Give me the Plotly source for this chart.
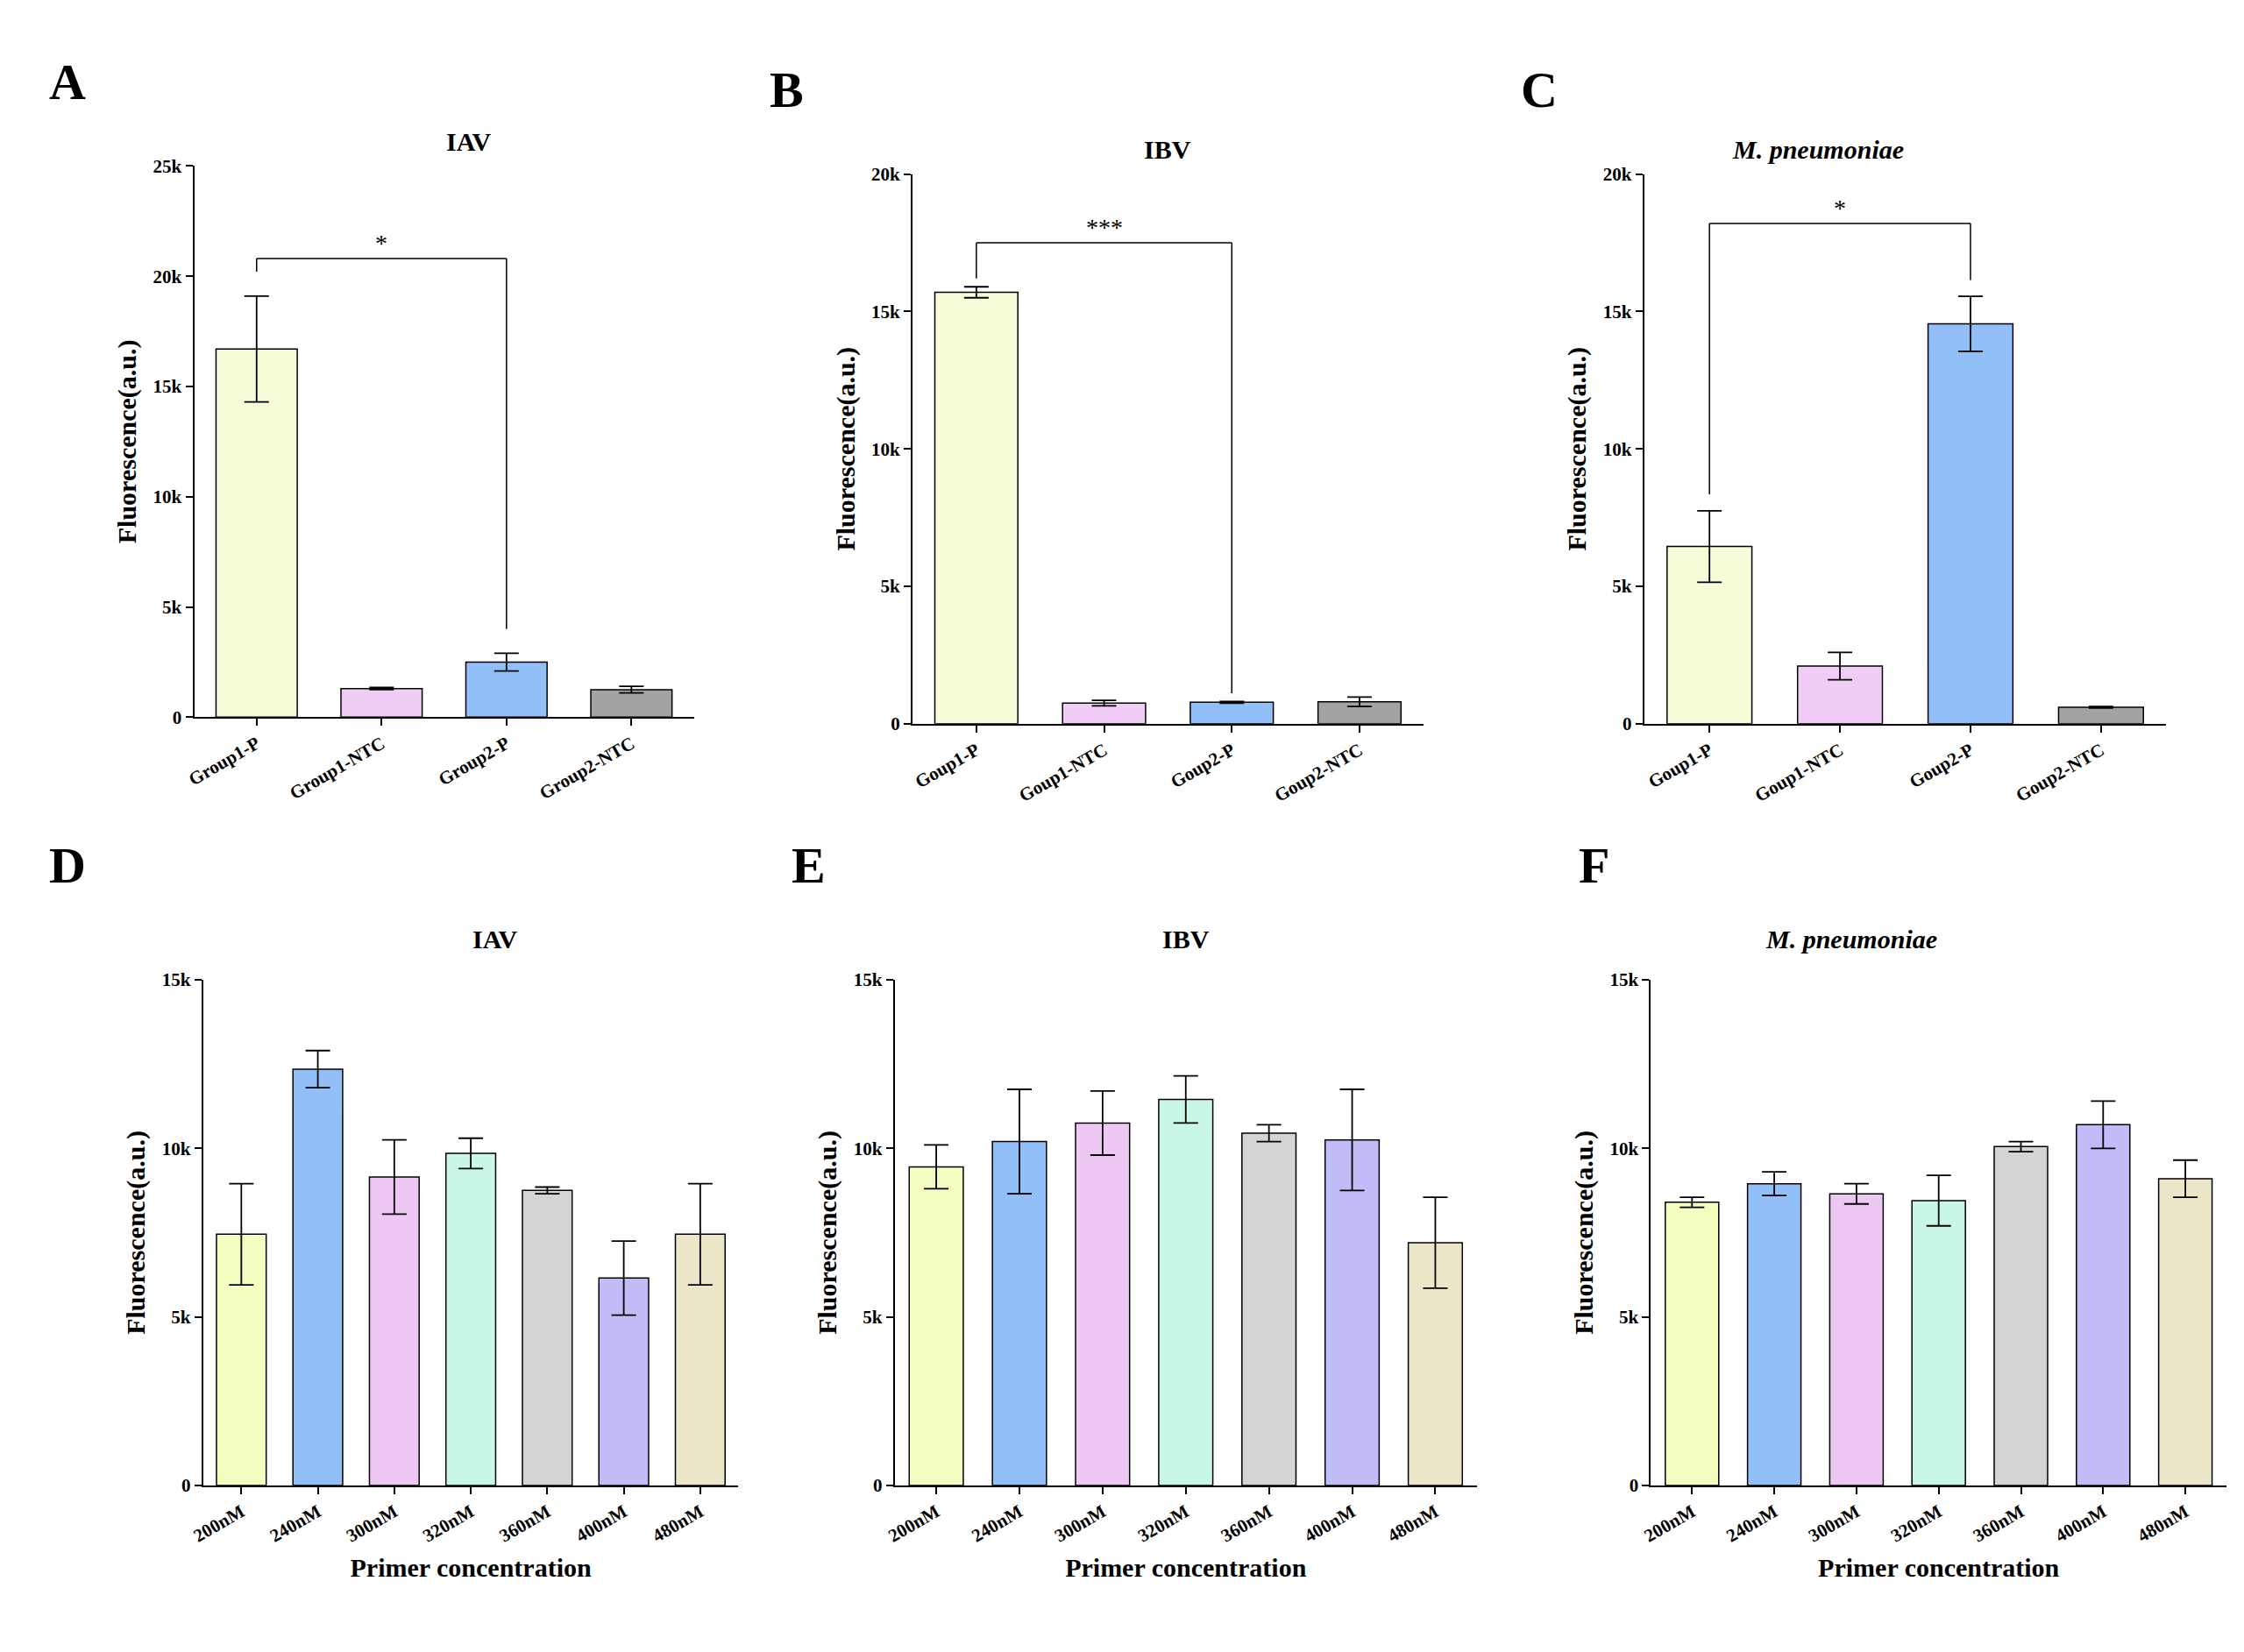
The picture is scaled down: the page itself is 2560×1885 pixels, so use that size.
import plotly.graph_objects as go
from plotly.subplots import make_subplots

# top row: group comparisons
cats_a = ["Group1-P", "Group1-NTC", "Group2-P", "Group2-NTC"]
cats_bc = ["Goup1-P", "Goup1-NTC", "Goup2-P", "Goup2-NTC"]
iav_grp = [16700, 1300, 2500, 1250]
iav_grp_err = [2400, 50, 400, 150]
ibv_grp = [15700, 750, 780, 800]
ibv_grp_err = [200, 100, 30, 170]
mp_grp = [6450, 2100, 14550, 600]
mp_grp_err = [1300, 500, 1000, 30]

# bottom row: primer concentration
conc = ["200nM", "240nM", "300nM", "320nM", "360nM", "400nM", "480nM"]
iav_conc = [7450, 12350, 9150, 9850, 8750, 6150, 7450]
iav_conc_err = [1500, 550, 1100, 450, 100, 1100, 1500]
ibv_conc = [9450, 10200, 10750, 11450, 10450, 10250, 7200]
ibv_conc_err = [650, 1550, 950, 700, 250, 1500, 1350]
mp_conc = [8400, 8950, 8650, 8450, 10050, 10700, 9100]
mp_conc_err = [150, 350, 300, 750, 150, 700, 550]

top_colors = ["#f8fbd8", "#efcdf5", "#92bff7", "#a3a3a3"]
bot_colors = ["#f2fdc0", "#92bff7", "#ecc8f3", "#c9f7e6", "#d4d4d4", "#bfbcf8", "#ece6c9"]

FONT = "Liberation Serif"
fig = make_subplots(rows=2, cols=3)

panels = [
    (1, 1, cats_a, iav_grp, iav_grp_err, top_colors, 25000),
    (1, 2, cats_bc, ibv_grp, ibv_grp_err, top_colors, 20000),
    (1, 3, cats_bc, mp_grp, mp_grp_err, top_colors, 20000),
    (2, 1, conc, iav_conc, iav_conc_err, bot_colors, 15000),
    (2, 2, conc, ibv_conc, ibv_conc_err, bot_colors, 15000),
    (2, 3, conc, mp_conc, mp_conc_err, bot_colors, 15000),
]
for r, c, cats, vals, errs, cols, ymax in panels:
    fig.add_trace(go.Bar(
        x=cats, y=vals, marker=dict(color=cols, line=dict(color="black", width=1.5)),
        width=0.65,
        error_y=dict(type="data", array=errs, color="black", thickness=1.8, width=14),
        showlegend=False), row=r, col=c)
    dtick = 5000
    fig.update_yaxes(range=[0, ymax], dtick=dtick, row=r, col=c)

domains = [
    ((0.078, 0.302), (0.571, 0.909)),
    ((0.400, 0.629), (0.567, 0.904)),
    ((0.728, 0.962), (0.567, 0.904)),
    ((0.082, 0.322), (0.100, 0.410)),
    ((0.392, 0.653), (0.100, 0.410)),
    ((0.731, 0.989), (0.100, 0.410)),
]
for i, (dx, dy) in enumerate(domains, start=1):
    sfx = "" if i == 1 else str(i)
    fig.layout["xaxis" + sfx].update(domain=dx)
    fig.layout["yaxis" + sfx].update(domain=dy)

axis_style = dict(showline=True, linecolor="black", linewidth=2, ticks="outside",
                  tickwidth=2, ticklen=8, tickcolor="black", showgrid=False, zeroline=False,
                  tickfont=dict(family=FONT, size=21, color="black", weight="bold"))
fig.update_xaxes(**axis_style, tickangle=-30)
fig.update_yaxes(**axis_style)
fig.update_yaxes(title=dict(text="<b>Fluorescence(a.u.)</b>", font=dict(family=FONT, size=30, color="black"), standoff=10))
for c in (1, 2, 3):
    fig.update_xaxes(title=dict(text="<b>Primer concentration</b>", font=dict(family=FONT, size=30, color="black"), standoff=14), row=2, col=c)

# significance brackets
brackets = [("x", "y", iav_grp, iav_grp_err, 0, 2, 20800, 1100, "*"),
            ("x2", "y2", ibv_grp, ibv_grp_err, 0, 2, 17500, 300, "***"),
            ("x3", "y3", mp_grp, mp_grp_err, 0, 2, 18200, 600, "*")]
for xr, yr, vals, errs, i0, i1, lvl, gap, txt in brackets:
    y0 = vals[i0] + errs[i0] + gap
    y1 = vals[i1] + errs[i1] + gap
    for xa, ya, xb, yb in [(i0, y0, i0, lvl), (i0, lvl, i1, lvl), (i1, lvl, i1, y1)]:
        fig.add_shape(type="line", xref=xr, yref=yr, x0=xa, y0=ya, x1=xb, y1=yb,
                      line=dict(color="black", width=1.5))
    fig.add_annotation(xref=xr, yref=yr, x=(i0 + i1) / 2, y=lvl, text=txt, showarrow=False,
                       yanchor="bottom", font=dict(family=FONT, size=28, color="black"))

titles = ["<b>IAV</b>", "<b>IBV</b>", "<b><i>M. pneumoniae</i></b>"] * 2
letters = ["A", "B", "C", "D", "E", "F"]
letter_x = [0.012, 0.335, 0.672, 0.012, 0.345, 0.698]
for (dx, dy), t, L, lx in zip(domains, titles, letters, letter_x):
    fig.add_annotation(xref="paper", yref="paper", x=(dx[0] + dx[1]) / 2, y=dy[1] + 0.025,
                       text=t, showarrow=False, font=dict(family=FONT, size=30, color="black"))
    fig.add_annotation(xref="paper", yref="paper", x=lx, y=dy[1] + 0.07, text="<b>" + L + "</b>",
                       showarrow=False, xanchor="left", font=dict(family=FONT, size=58, color="black"))

fig.update_layout(width=2560, height=1885, plot_bgcolor="white", paper_bgcolor="white",
                  margin=dict(l=0, r=0, t=0, b=0), bargap=0.35)
fig.write_html("out.html")
